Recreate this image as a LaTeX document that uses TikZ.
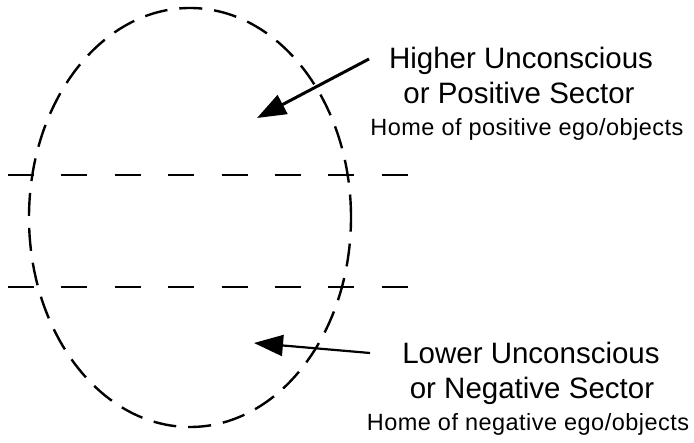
\documentclass[tikz,border=0pt]{standalone}
\usepackage{fontspec}
\setmainfont{Liberation Sans}
\newfontfamily\smallfam[LetterSpace=2]{Liberation Sans}
\usetikzlibrary{arrows.meta}
\tikzset{
  sector/.style={draw=black, line width=2.4pt, dash pattern=on 23pt off 12pt},
  divider/.style={draw=black, line width=2pt, dash pattern=on 26pt off 27.4pt},
  bigtxt/.style={anchor=base, inner sep=0pt, font=\fontsize{29.5}{34}\selectfont},
  smalltxt/.style={anchor=base, inner sep=0pt, font=\smallfam\fontsize{23.5}{27}\selectfont},
  pointer/.style={draw=black, -{Triangle[length=29pt, width=21pt]}},
}
\begin{document}
\begin{tikzpicture}[x=1pt, y=1pt]
\useasboundingbox (0,0) rectangle (694,-443);
% ellipse
\path[sector] (190,-217.5) ellipse [x radius=161, y radius=209.5];
% dividers
\coordinate (d1a) at (8,-175);
\coordinate (d1b) at (409,-175);
\coordinate (d2a) at (8,-287);
\coordinate (d2b) at (409,-287);
\draw[divider] (d1a) -- (d1b);
\draw[divider] (d2a) -- (d2b);
% upper labels
\node[bigtxt] (hu) at (521,-68.5) {Higher Unconscious};
\node[bigtxt] (ps) at (519,-104) {or Positive Sector};
\node[smalltxt] (hp) at (527,-136) {Home of positive ego/objects};
% lower labels
\node[bigtxt] (lu) at (531,-363.5) {Lower Unconscious};
\node[bigtxt] (ns) at (532,-399) {or Negative Sector};
\node[smalltxt] (hn) at (528,-431) {Home of negative ego/objects};
% arrows
\coordinate (a1s) at (369,-59);
\coordinate (a1t) at (257,-118);
\coordinate (a2s) at (370,-353);
\coordinate (a2t) at (254,-343);
\draw[pointer, line width=3pt] (a1s) -- (a1t);
\draw[pointer, line width=2.2pt] (a2s) -- (a2t);
\end{tikzpicture}
\end{document}
